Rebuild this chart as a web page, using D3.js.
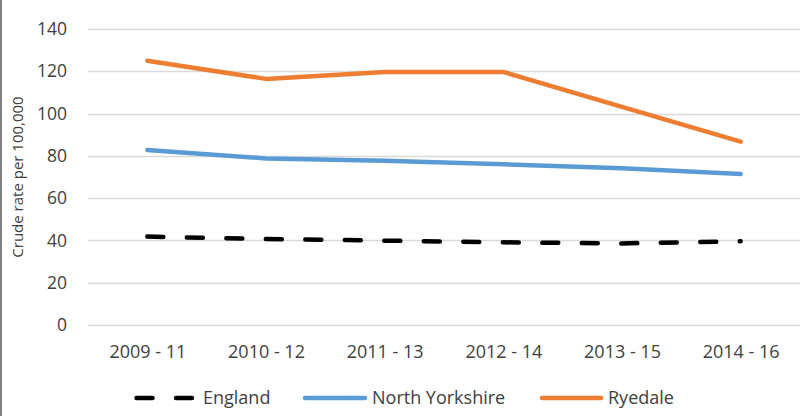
<!DOCTYPE html>
<html>
<head>
<meta charset="utf-8">
<script src="https://cdn.jsdelivr.net/npm/d3@7"></script>
<style>
  body { margin: 0; background: #fff; }
  svg text { font-family: "Open Sans", Lato, sans-serif; fill: #404040; }
</style>
</head>
<body>
<div class="visHolder"></div>
<script>
// chart values
var categories = ["2009 - 11", "2010 - 12", "2011 - 13", "2012 - 14", "2013 - 15", "2014 - 16"];
var england = [41.8, 40.7, 39.9, 39.1, 38.6, 39.6];
var northYorkshire = [82.8, 78.8, 77.7, 76.0, 74.1, 71.4];
var ryedale = [125.0, 116.4, 119.7, 119.7, 103.2, 86.7];
var yTicks = [0, 20, 40, 60, 80, 100, 120, 140];
var seriesNames = ["England", "North Yorkshire", "Ryedale"];

var width = 811,
  height = 416;

var svg = d3
  .select(".visHolder")
  .append("svg")
  .attr("width", width)
  .attr("height", height);

// left frame edge
svg
  .append("line")
  .attr("x1", 1)
  .attr("x2", 1)
  .attr("y1", 0)
  .attr("y2", height)
  .attr("stroke", "#808080")
  .attr("stroke-width", 2);

var xScale = d3.scalePoint().domain(categories).range([88, 800]).padding(0.5);
var yScale = d3.scaleLinear().domain([0, 140]).range([325, 29]);

// gridlines
svg
  .append("g")
  .selectAll("line")
  .data(yTicks)
  .enter()
  .append("line")
  .attr("x1", 88)
  .attr("x2", 800)
  .attr("y1", (d) => Math.round(yScale(d)) + 0.5)
  .attr("y2", (d) => Math.round(yScale(d)) + 0.5)
  .attr("stroke", "#d9d9d9")
  .attr("stroke-width", 1.5);

var yAxis = d3.axisLeft(yScale).tickValues(yTicks).tickSize(0).tickPadding(21);
var gy = svg.append("g").attr("id", "y-axis").attr("transform", "translate(88, 0)").call(yAxis);
gy.select(".domain").remove();
gy.selectAll("text")
  .style("font-size", "17.5px")
  .style("font-family", "'Open Sans', sans-serif")
  .attr("fill", "#404040");

var xAxis = d3.axisBottom(xScale).tickSize(0);
var gx = svg.append("g").attr("id", "x-axis").attr("transform", "translate(0, 325)").call(xAxis);
gx.select(".domain").remove();
gx.selectAll("text")
  .attr("y", 33)
  .attr("dy", 0)
  .style("font-size", "18px")
  .style("font-family", "'Open Sans', sans-serif")
  .attr("fill", "#404040");

svg
  .append("text")
  .attr("transform", "rotate(-90)")
  .attr("x", -177)
  .attr("y", 23)
  .attr("text-anchor", "middle")
  .style("font-size", "15px")
  .text("Crude rate per 100,000");

var line = d3
  .line()
  .x((d, i) => xScale(categories[i]))
  .y((d) => yScale(d));

var styles = [
  { data: england, color: "#000000", dash: "16,23.5" },
  { data: northYorkshire, color: "#5b9bd5", dash: null },
  { data: ryedale, color: "#ed7d31", dash: null }
];

styles.forEach(function (s) {
  svg
    .append("path")
    .datum(s.data)
    .attr("d", line)
    .attr("fill", "none")
    .attr("stroke", s.color)
    .attr("stroke-width", 4.5)
    .attr("stroke-linecap", "round")
    .attr("stroke-linejoin", "round")
    .attr("stroke-dasharray", s.dash);
});

// legend
var legendPos = [
  { x1: 136.5, x2: 193.5, tx: 203 },
  { x1: 305, x2: 365, tx: 372 },
  { x1: 542, x2: 601, tx: 608 }
];
var legend = svg.append("g").attr("class", "legend");
seriesNames.forEach(function (name, i) {
  var p = legendPos[i];
  legend
    .append("line")
    .attr("x1", p.x1)
    .attr("x2", p.x2)
    .attr("y1", 398)
    .attr("y2", 398)
    .attr("stroke", styles[i].color)
    .attr("stroke-width", 4.5)
    .attr("stroke-linecap", "round")
    .attr("stroke-dasharray", styles[i].dash);
  legend
    .append("text")
    .attr("x", p.tx)
    .attr("y", 398)
    .attr("dy", "0.35em")
    .style("font-size", "18px")
    .text(name);
});
</script>
</body>
</html>
